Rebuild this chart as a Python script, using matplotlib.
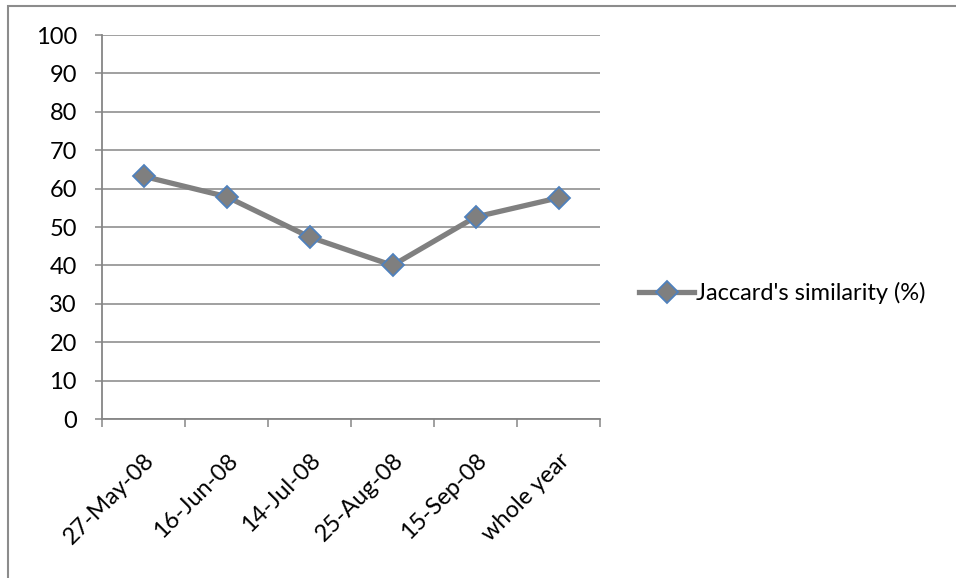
import matplotlib
matplotlib.use("Agg")
import matplotlib.pyplot as plt
from matplotlib.patches import Rectangle
from matplotlib.lines import Line2D
import numpy as np

categories = ["27-May-08", "16-Jun-08", "14-Jul-08", "25-Aug-08", "15-Sep-08", "whole year"]
similarity = [63.2, 57.9, 47.4, 40.0, 52.6, 57.6]
series_name = "Jaccard's similarity (%)"
y_ticks = list(range(0, 101, 10))

plt.rcParams['font.family'] = ['Lato', 'DejaVu Sans']
FS = 17

W, H = 956, 578
fig = plt.figure(figsize=(W / 100, H / 100), dpi=100)
fig.patch.set_facecolor("white")

# chart-area border
fig.add_artist(Rectangle((8 / W, -0.1), 1.2, (H - 6) / H + 0.1, transform=fig.transFigure,
                         fill=False, edgecolor="#8c8c8c", linewidth=1.5))

ax = fig.add_axes([102 / W, (H - 419) / H, (600 - 102) / W, (419 - 35) / H])
grid_c = "#868686"

line_kw = dict(color="#808080", linewidth=3.8, marker="D", markersize=11,
               markerfacecolor="#7f7f7f", markeredgecolor="#4f81bd", markeredgewidth=1.3)

x = np.arange(len(categories))
ax.plot(x, similarity, solid_joinstyle="round", zorder=3, **line_kw)

ax.set_xlim(-0.5, len(categories) - 0.5)
ax.set_ylim(0, 100)
ax.set_yticks(y_ticks)
ax.set_yticklabels([str(v) for v in y_ticks], fontsize=FS)
ax.yaxis.grid(True, color=grid_c, linewidth=1.1)
ax.set_axisbelow(True)

ax.set_xticks(np.arange(-0.5, len(categories), 1.0))
ax.set_xticklabels([])
ax.set_xticks(x, minor=True)
ax.set_xticklabels(categories, minor=True, rotation=45, ha="right", va="top",
                   rotation_mode="anchor", fontsize=FS)
ax.tick_params(axis="x", which="minor", length=0, pad=22)
ax.tick_params(axis="x", which="major", length=6, color=grid_c, width=1.1)
ax.tick_params(axis="y", length=5, color=grid_c, width=1.1, pad=13)

for s in ["top", "right"]:
    ax.spines[s].set_visible(False)
for s in ["left", "bottom"]:
    ax.spines[s].set_color(grid_c)
    ax.spines[s].set_linewidth(1.3)

handle = Line2D([], [], **line_kw)
fig.legend([handle], [series_name], loc="center left", bbox_to_anchor=(639 / W, 1 - 293 / H),
           frameon=False, fontsize=FS, handlelength=2.35, handletextpad=0.05, borderpad=0,
           borderaxespad=0)

fig.savefig("out.png", dpi=100)
